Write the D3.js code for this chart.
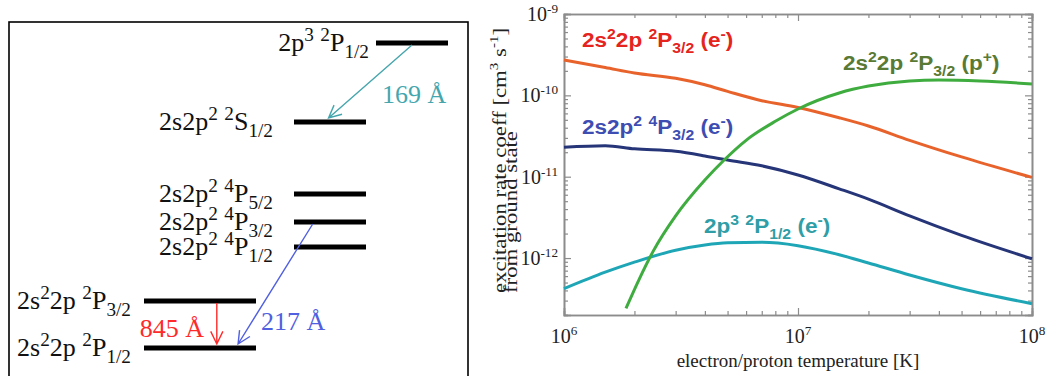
<!DOCTYPE html>
<html>
<head>
<meta charset="utf-8">
<script src="https://cdn.jsdelivr.net/npm/d3@7"></script>
<style>
  body { margin: 0; background: #fff; }
  text { white-space: pre; }
</style>
</head>
<body>
<div id="chart"></div>
<script>
// ---- data: energy level diagram ----
const levelNames = ["2s^{2}2p ^{2}P_{1/2}", "2s^{2}2p ^{2}P_{3/2}", "2s2p^{2} ^{4}P_{1/2}",
  "2s2p^{2} ^{4}P_{3/2}", "2s2p^{2} ^{4}P_{5/2}", "2s2p^{2} ^{2}S_{1/2}", "2p^{3} ^{2}P_{1/2}"];
const levelColumn = ["left", "left", "middle", "middle", "middle", "middle", "right"];
const levelHeight = [0, 47, 101, 126, 154, 226, 305];   // diagram units (not to scale)

const transFrom = [6, 3, 1];
const transTo = [5, 0, 0];
const transLabel = ["169 Å", "217 Å", "845 Å"];

// ---- data: rate coefficients ----
const tempsE = [1e6, 1.5e6, 2e6, 3e6, 4e6, 5e6, 7e6, 1e7, 1.5e7, 2e7, 3e7, 5e7, 1e8];
const rateP32e = [2.72e-10, 2.2e-10, 1.88e-10, 1.62e-10, 1.35e-10, 1.12e-10, 8.6e-11, 7.1e-11, 5.3e-11, 4.2e-11, 2.8e-11, 1.75e-11, 9.8e-12];
const rate4P32e = [2.3e-11, 2.4e-11, 2.2e-11, 2.05e-11, 1.8e-11, 1.6e-11, 1.36e-11, 1.05e-11, 7.1e-12, 5.3e-12, 3.3e-12, 1.9e-12, 9.8e-13];
const rate2p3e = [4.2e-13, 6.7e-13, 8.9e-13, 1.25e-12, 1.45e-12, 1.54e-12, 1.56e-12, 1.42e-12, 1.1e-12, 8.7e-13, 6.2e-13, 4.2e-13, 2.75e-13];
const tempsP = [1.84e6, 2.09e6, 2.4e6, 3e6, 4e6, 4.8e6, 6e6, 8e6, 1e7, 1.5e7, 2e7, 3e7, 4e7, 6e7, 1e8];
const rateP32p = [2.4e-13, 5.4e-13, 1.2e-12, 3.3e-12, 9.1e-12, 1.57e-11, 2.8e-11, 4.8e-11, 6.8e-11, 1.07e-10, 1.3e-10, 1.5e-10, 1.54e-10, 1.5e-10, 1.38e-10];

const seriesLabels = ["2s^{2}2p ^{2}P_{3/2} (e^{-})", "2s2p^{2} ^{4}P_{3/2} (e^{-})", "2p^{3} ^{2}P_{1/2} (e^{-})", "2s^{2}2p ^{2}P_{3/2} (p^{+})"];
const xTicks = [1e6, 1e7, 1e8];
const yTicks = [1e-12, 1e-11, 1e-10, 1e-9];

const serif = "'Liberation Serif', 'Times New Roman', serif";
const sans = "'Liberation Sans', Arial, sans-serif";

const svg = d3.select('#chart').append('svg')
  .attr('width', 1049)
  .attr('height', 376);

// write text with ^{sup} and _{sub} parts as tspans
function rich(text, str, size, small = 0.66) {
  const parts = str.split(/(\^\{[^}]*\}|_\{[^}]*\})/).filter(s => s.length);
  let shift = 0;
  parts.forEach(p => {
    let kind = 'n', t = p;
    if (p.startsWith('^{')) { kind = 'sup'; t = p.slice(2, -1); }
    else if (p.startsWith('_{')) { kind = 'sub'; t = p.slice(2, -1); }
    const target = kind === 'sup' ? -size * 0.4 : kind === 'sub' ? size * 0.28 : 0;
    text.append('tspan')
      .attr('dy', target - shift)
      .attr('font-size', kind === 'n' ? size : size * small)
      .text(t);
    shift = target;
  });
  return text;
}

// ================= left panel =================
svg.append('rect')
  .attr('x', 9).attr('y', 22).attr('width', 459).attr('height', 400)
  .attr('fill', 'none').attr('stroke', '#000').attr('stroke-width', 1.6);

const ly = d3.scaleLinear().domain([0, 305]).range([348, 43]);
const cols = { left: [144, 256], middle: [294, 366], right: [376, 448] };
const labelEnd = { left: 131, middle: 273, right: 369 };

levelHeight.forEach((h, i) => {
  const c = cols[levelColumn[i]];
  svg.append('line')
    .attr('x1', c[0]).attr('x2', c[1])
    .attr('y1', ly(h)).attr('y2', ly(h))
    .attr('stroke', '#000').attr('stroke-width', 5);
  rich(svg.append('text')
    .attr('x', labelEnd[levelColumn[i]]).attr('y', ly(h) + 8)
    .attr('text-anchor', 'end')
    .attr('font-family', serif).attr('fill', '#111'), levelNames[i], 26, 0.74);
});

// arrows: where they sit on the bars, and label offsets
const arrowStyle = [
  { from: 0.5, to: 0.48, color: '#45a6ad', lx: 382, ly: 103, anchor: 'start' },
  { from: 0.26, to: 0.84, color: '#5060e0', lx: 261, ly: 330, anchor: 'start' },
  { from: 0.65, to: 0.65, color: '#ff2a2a', lx: 204, ly: 337, anchor: 'end' }
];

transFrom.forEach((f, i) => {
  const s = arrowStyle[i];
  const cf = cols[levelColumn[f]], ct = cols[levelColumn[transTo[i]]];
  const x1 = cf[0] + s.from * (cf[1] - cf[0]);
  const y1 = ly(levelHeight[f]) + 2;
  const x2 = ct[0] + s.to * (ct[1] - ct[0]);
  const y2 = ly(levelHeight[transTo[i]]) - 4;
  const ang = Math.atan2(y2 - y1, x2 - x1);
  const len = 14, spread = 0.45;
  const a1 = [x2 - len * Math.cos(ang - spread), y2 - len * Math.sin(ang - spread)];
  const a2 = [x2 - len * Math.cos(ang + spread), y2 - len * Math.sin(ang + spread)];
  svg.append('path')
    .attr('d', `M${x1},${y1}L${x2},${y2}M${a1[0]},${a1[1]}L${x2},${y2}L${a2[0]},${a2[1]}`)
    .attr('fill', 'none').attr('stroke', s.color).attr('stroke-width', 1.4);
  svg.append('text')
    .attr('x', s.lx).attr('y', s.ly)
    .attr('text-anchor', s.anchor)
    .attr('font-family', serif).attr('font-size', 26)
    .attr('fill', s.color)
    .text(transLabel[i]);
});

// ================= right panel =================
const m = { left: 564, right: 1032, top: 14, bottom: 315 };
const x = d3.scaleLog().domain([1e6, 1e8]).range([m.left, m.right]);
const y = d3.scaleLog().domain([Math.pow(10, -12.7), 1e-9]).range([m.bottom, m.top]);

const axisColor = '#8c8c8c';
const xMinor = [];
[1e6, 1e7].forEach(d => { for (let k = 2; k <= 9; k++) xMinor.push(d * k); });
const yMinor = [];
[1e-13, 1e-12, 1e-11, 1e-10].forEach(d => {
  for (let k = 2; k <= 9; k++) { const v = d * k; if (v >= y.domain()[0]) yMinor.push(v); }
});

function frameAxis(axisFn, scale, pos, values, size) {
  const g = svg.append('g').attr('transform', pos)
    .call(axisFn(scale).tickValues(values).tickSize(size).tickFormat(''));
  g.select('.domain').attr('stroke', axisColor).attr('stroke-width', 1.6);
  g.selectAll('.tick line').attr('stroke', axisColor).attr('stroke-width', 1.2);
  return g;
}
[[xTicks, -7], [xMinor, -4]].forEach(([v, s]) => {
  frameAxis(d3.axisBottom, x, `translate(0,${m.bottom})`, v, s);
  frameAxis(d3.axisTop, x, `translate(0,${m.top})`, v, s);
});
[[yTicks, -7], [yMinor, -4]].forEach(([v, s]) => {
  frameAxis(d3.axisLeft, y, `translate(${m.left},0)`, v, s);
  frameAxis(d3.axisRight, y, `translate(${m.right},0)`, v, s);
});

// tick labels
xTicks.forEach(v => {
  rich(svg.append('text')
    .attr('x', x(v)).attr('y', 343)
    .attr('text-anchor', 'middle')
    .attr('font-family', serif).attr('fill', '#222'), '10^{' + Math.round(Math.log10(v)) + '}', 20);
});
yTicks.forEach(v => {
  rich(svg.append('text')
    .attr('x', 558).attr('y', y(v) + 7)
    .attr('text-anchor', 'end')
    .attr('font-family', serif).attr('fill', '#222'), '10^{' + Math.round(Math.log10(v)) + '}', 20);
});

// axis titles
svg.append('text')
  .attr('x', x(1e7)).attr('y', 367)
  .attr('text-anchor', 'middle')
  .attr('font-family', serif).attr('font-size', 19).attr('fill', '#222')
  .text('electron/proton temperature [K]');
rich(svg.append('text')
  .attr('transform', 'translate(506,293) rotate(-90) scale(1.2,1)')
  .attr('font-family', serif).attr('fill', '#222'), 'excitation rate coeff [cm^{3} s^{-1}]', 19);
svg.append('text')
  .attr('transform', 'translate(517,293) rotate(-90) scale(1.2,1)')
  .attr('font-family', serif).attr('font-size', 19).attr('fill', '#222')
  .text('from ground state');

// curves
const line = d3.line()
  .x(d => x(d[0]))
  .y(d => y(d[1]))
  .curve(d3.curveMonotoneX);

const curves = [
  { t: tempsE, v: rateP32e, color: '#e8622c' },
  { t: tempsE, v: rate4P32e, color: '#263578' },
  { t: tempsE, v: rate2p3e, color: '#1fa6b6' },
  { t: tempsP, v: rateP32p, color: '#3fac3f' }
];
curves.forEach(c => {
  svg.append('path')
    .datum(d3.zip(c.t, c.v))
    .attr('d', line)
    .attr('fill', 'none')
    .attr('stroke', c.color)
    .attr('stroke-width', 3);
});

// in-plot labels
const labelStyle = [
  { x: 582, y: 47, color: '#e52420' },
  { x: 582, y: 134, color: '#3e4db2' },
  { x: 704, y: 233, color: '#2f9ea6' },
  { x: 843, y: 70, color: '#587a34' }
];
seriesLabels.forEach((s, i) => {
  const st = labelStyle[i];
  rich(svg.append('text')
    .attr('transform', `translate(${st.x},${st.y}) scale(1.1,1)`)
    .attr('font-family', sans).attr('font-weight', 'bold')
    .attr('fill', st.color), s, 20.5, 0.7);
});
</script>
</body>
</html>
